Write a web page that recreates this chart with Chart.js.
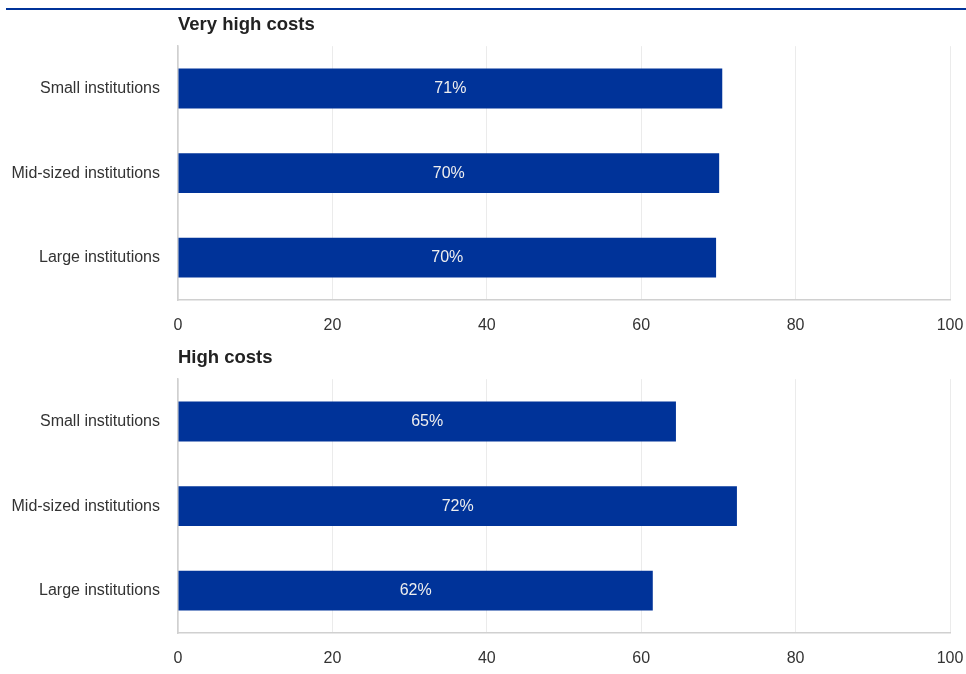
<!DOCTYPE html>
<html>
<head>
<meta charset="utf-8">
<script src="https://cdn.jsdelivr.net/npm/chart.js@4"></script>
<style>
  html, body { margin: 0; padding: 0; background: #fff; }
  body { width: 966px; height: 674px; position: relative; overflow: hidden; }
  .topline { position: absolute; left: 6px; top: 8px; width: 960px; height: 2px; background: #003399; }
  .box { position: absolute; left: 0; width: 966px; height: 330px; }
</style>
</head>
<body>
<div class="topline"></div>
<div class="box" style="top:10px"><canvas id="chart-very-high"></canvas></div>
<div class="box" style="top:343px"><canvas id="chart-high"></canvas></div>
<script>
// categories and values
const categories = ['Small institutions', 'Mid-sized institutions', 'Large institutions'];
const veryHighCosts = [70.5, 70.1, 69.7];
const veryHighLabels = ['71%', '70%', '70%'];
const highCosts = [64.5, 72.4, 61.5];
const highLabels = ['65%', '72%', '62%'];
const xTicks = [0, 20, 40, 60, 80, 100];

const BAR_COLOR = '#003399';
const FONT = '"Liberation Sans", Arial, sans-serif';

// draws the percent text in the middle of each bar
const barLabels = {
    id: 'barLabels',
    afterDatasetsDraw(chart, args, opts) {
        const ctx = chart.ctx;
        const meta = chart.getDatasetMeta(0);
        ctx.save();
        ctx.font = '16px ' + FONT;
        ctx.fillStyle = '#eeeeee';
        ctx.textAlign = 'center';
        ctx.textBaseline = 'middle';
        meta.data.forEach((bar, i) => {
            ctx.fillText(opts.labels[i], (bar.base + bar.x) / 2, bar.y);
        });
        ctx.restore();
    }
};

function makeChart(id, title, values, labels) {
    const ctx = document.getElementById(id).getContext('2d');
    return new Chart(ctx, {
        type: 'bar',
        data: {
            labels: categories,
            datasets: [{
                data: values,
                backgroundColor: BAR_COLOR,
                borderWidth: 0,
                categoryPercentage: 1,
                barPercentage: 0.47
            }]
        },
        options: {
            indexAxis: 'y',
            responsive: true,
            maintainAspectRatio: false,
            animation: false,
            layout: { padding: { left: 0, right: 16, top: 0, bottom: 0 } },
            plugins: {
                legend: { display: false },
                tooltip: { enabled: false },
                title: {
                    display: true,
                    text: title,
                    align: 'start',
                    fullSize: false,
                    color: '#222',
                    font: { family: FONT, size: 18.5, weight: 'bold' },
                    padding: { top: 4, bottom: 10 }
                },
                barLabels: { labels: labels }
            },
            scales: {
                x: {
                    min: 0,
                    max: 100,
                    afterBuildTicks: scale => { scale.ticks = xTicks.map(v => ({ value: v })); },
                    afterFit: scale => {
                        scale.height = 40;
                        scale.paddingLeft = 0;
                        scale.paddingRight = 0;
                    },
                    grid: { color: '#ebebeb', drawTicks: false },
                    border: { color: '#d0d0d0', width: 1.5 },
                    ticks: { color: '#333', padding: 16, font: { family: FONT, size: 16 } }
                },
                y: {
                    afterFit: scale => { scale.width = 178; },
                    grid: { display: false, drawTicks: false },
                    border: { color: '#d0d0d0', width: 1.5 },
                    ticks: { color: '#333', padding: 18, font: { family: FONT, size: 16 } }
                }
            }
        },
        plugins: [barLabels]
    });
}

makeChart('chart-very-high', 'Very high costs', veryHighCosts, veryHighLabels);
makeChart('chart-high', 'High costs', highCosts, highLabels);
</script>
</body>
</html>
